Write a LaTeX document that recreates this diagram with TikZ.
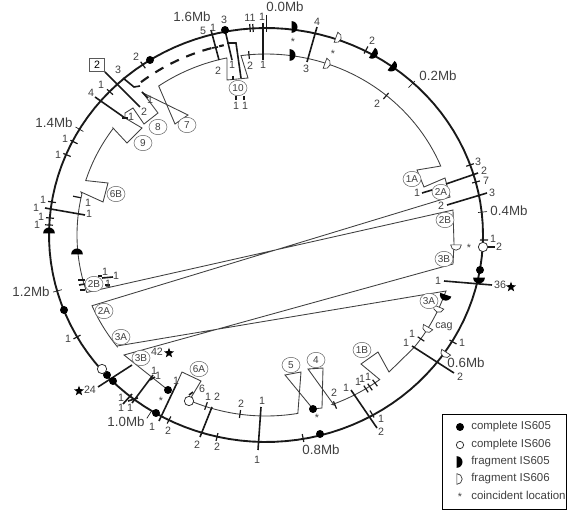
\documentclass[tikz,border=0pt]{standalone}
\usepackage{fontspec}
\usetikzlibrary{shapes.geometric}
\setmainfont{Liberation Sans}
\newcommand{\ix}{266+189*cos(\x)}
\newcommand{\iy}{235+181*sin(\x)}
\begin{document}
\begin{tikzpicture}[
    x=0.75pt, y=-0.75pt,
    ring/.style={line width=1.4pt, black!90},
    track/.style={line width=0.65pt, black!75},
    trk/.style={domain=#1, samples=40},
    bar/.style={line width=1.2pt, black!90},
    tick/.style={line width=0.9pt, black!90},
    num/.style={inner sep=0pt, font=\fontsize{8}{8}\selectfont, text=black!75},
    mb/.style={inner sep=0pt, font=\fontsize{10}{10}\selectfont, text=black!75},
    tag/.style={ellipse, draw=black!60, line width=0.4pt, fill=white, inner sep=0pt, minimum width=13.5pt, minimum height=11.5pt, font=\fontsize{7.5}{7.5}\selectfont, text=black!75},
    comp/.style={circle, fill=black, inner sep=0pt, minimum size=6pt},
    open/.style={circle, draw=black!80, line width=0.6pt, fill=white, inner sep=0pt, minimum size=7pt},
    halfa/.style={semicircle, fill=black, inner sep=0pt, minimum size=4.4pt},
    halfb/.style={semicircle, draw=black!80, line width=0.5pt, fill=white, inner sep=0pt, minimum size=4pt},
    astar/.style={star, star points=5, star point ratio=2.4, fill=black, inner sep=0pt, minimum size=8pt},
    keytext/.style={inner sep=0pt, anchor=west, font=\fontsize{8.6}{8.6}\selectfont, text=black!75}
]
\useasboundingbox (0,0) rectangle (568,513);

\draw[ring] plot[domain=0:360,samples=120] ({266+217*cos(\x)},{235+207*sin(\x)}) -- cycle;
\draw[track] (177,383) -- (182,372) -- (201,381) -- (189,401) -- plot[trk=114:80.3] ({\ix},{\iy})
    -- (301,372) -- (285,375) -- (313,409) -- (322,408) -- (323,368) -- (308,369) -- (334,405)
    -- plot[trk=69.5:53] ({\ix},{\iy}) -- (361,364) -- (378,352) -- (389,372) -- plot[trk=38.5:19.5] ({\ix},{\iy})
    -- (446,291) -- (117,346) -- plot[trk=142:157] ({\ix},{\iy})
    -- (450,197) -- (445,178) -- (424,187) -- (417,170) -- plot[trk=-22.4:-97.6] ({\ix},{\iy})
    -- (248,78) -- (227,80) -- (227,59) -- plot[trk=-102:-124.6] ({\ix},{\iy})
    -- (175,124) -- (188,115) -- (143,93) -- (158,113) -- (144,124) -- (133,108) -- (125,113) -- (125,118)
    -- (142,128) -- (127,143) -- (113,128) -- plot[trk=-144:-162.5] ({\ix},{\iy})
    -- (108,183) -- (103,202) -- (81,192) -- plot[trk=193:161.5] ({\ix},{\iy})
    -- (453,210) -- (454,244) -- (453,264) -- (124,355) -- (168,390);
\draw[bar, line width=1.6pt, dash pattern=on 7pt off 6pt] plot[domain=-128:-102,samples=30] ({266+203*cos(\x)},{235+194*sin(\x)});

\foreach \xa/\ya/\xb/\yb in {263/23/263/60, 317/27/307/62, 211/30/219/60, 225/30/232/60, 95/97/125/118,
    105/72/140/107, 45/208/85/215, 446/184/478/173, 447/205/487/193, 422/193/432/190, 444/281/492/285,
    412/346/454/373, 351/390/377/428, 261/407/258/450, 212/407/200/437, 177/383/159/421, 153/375/132/403,
    132/365/98/387, 488/247/495/247, 212/48/218/47, 123/404/132/394, 128/401/138/398, 150/380/155/377,
    189/395/193/392, 98/276/102/276, 102/278/113/277, 105/285/110/285, 78/280/85/280, 79/285/85/284,
    80/290/85/290, 236/96/236/100, 244/96/244/100, 233/76/233/80, 142/92/148/98, 122/118/128/118}
    \draw[bar] (\xa,\ya) -- (\xb,\yb);
\draw[bar] (227,43) -- (236,43) -- (241,78);
\draw[bar] (123,78) -- (134,87) -- (140,86);

\foreach \px/\py in {143/65, 110/92, 74/142, 67/155, 52/202, 50/218, 49/225, 303/438, 366/50, 470/165,
    476/182, 484/240, 453/342, 372/414, 217/437, 169/420, 77/337, 250/28, 253/28, 249/55, 386/96, 421/339,
    335/405, 240/414, 206/406, 77/197, 366/389, 370/387, 375/383} {
    \pgfmathsetmacro\ang{atan2(\py-235,\px-266)}
    \draw[tick] (\px,\py) ++(\ang:-4) -- ++(\ang:8);
}
\foreach \px/\py in {79/129, 57/291, 412/84, 483/212, 149/415} {
    \pgfmathsetmacro\ang{atan2(\py-235,\px-266)}
    \draw[tick, line width=0.5pt] (\px,\py) ++(\ang:-5) -- ++(\ang:9);
}
\draw[tick, line width=0.5pt] (266,15) -- (266,32);

\foreach \px/\py [count=\i] in {150/60, 225/30, 64/310, 107/375, 113/381, 156/413, 168/390, 313/409, 320/434, 480/270}
    \node[comp] (comp\i) at (\px,\py) {};
\foreach \px/\py [count=\i] in {102/369, 483/247, 189/401}
    \node[open] (open\i) at (\px,\py) {};
\foreach \px/\py/\rot [count=\i] in {294/27/-90, 292/55/-90, 374/54/-121, 393/67/-127, 49/231/0, 77/252/0, 479/280/-180, 445/297/-199}
    \node[halfa, rotate=\rot] (fraga\i) at (\px,\py) {};
\foreach \px/\py/\rot [count=\i] in {338/38/-110, 327/64/-110, 456/247/-180, 438/309/-203, 427/329/-210, 445/354/-213}
    \node[halfb, rotate=\rot] (fragb\i) at (\px,\py) {};

\foreach \px/\py/\txt in {238/88/10, 187/125/7, 158/127/8, 143/143/9, 116/194/6B, 94/284/2B, 104/311/2A, 121/337/3A,
    141/358/3B, 199/369/6A, 291/365/5, 316/360/4, 362/350/1B, 429/301/3A, 444/259/3B, 445/220/2B, 441/192/2A, 412/179/1A}
    \node[tag] (tag\txt\px) at (\px,\py) {\txt};
\node[draw=black!65, line width=1.2pt, minimum width=11pt, minimum height=10pt, inner sep=0pt, fill=white, font=\fontsize{8}{8}\selectfont] (boxtwo) at (97,65) {2};

\foreach \px/\py/\txt [count=\i] in {136/57/2, 118/70/3, 101/85/1, 91/93/4, 150/100/1, 144/112/2, 131/117/1, 65/139/1,
    58/155/1, 43/200/1, 36/208/1, 89/214/1, 41/217/1, 37/225/1, 88/203/1, 203/31/5, 213/28/1, 224/20/3, 232/65/1,
    250/18/11, 262/17/1, 263/65/1, 250/66/2, 218/71/2, 236/106/1, 245/106/1, 317/22/4, 306/69/3, 372/41/2, 377/104/2,
    478/162/3, 484/171/2, 486/181/7, 417/193/1, 492/193/3, 441/206/2, 493/239/1, 499/247/2, 438/281/1, 462/343/1,
    406/343/1, 412/334/1, 460/377/2, 346/388/1, 381/419/1, 381/432/2, 358/382/1, 362/379/1, 368/377/1, 334/393/2,
    262/401/1, 257/460/1, 241/404/2, 217/447/2, 197/445/2, 208/397/1, 217/397/2, 202/389/6, 176/381/1, 152/427/1,
    168/431/2, 154/371/1, 158/376/1, 121/398/1, 121/408/1, 130/408/1, 68/339/1, 105/272/1, 116/276/1, 108/284/1,
    90/390/24, 500/285/36, 157/352/42, 444/327/cag}
    \node[num] (num\i) at (\px,\py) {\txt};
\foreach \px/\py/\txt [count=\i] in {285/7/0.0Mb, 192/17/1.6Mb, 54/123/1.4Mb, 31/292/1.2Mb, 126/422/1.0Mb, 321/450/0.8Mb,
    466/363/0.6Mb, 509/211/0.4Mb, 438/76/0.2Mb}
    \node[mb] (mb\i) at (\px,\py) {\txt};
\foreach \px/\py [count=\i] in {293/42, 333/54, 469/248, 317/418, 161/401}
    \node[num] (mark\i) at (\px,\py) {*};
\foreach \px/\py [count=\i] in {79/391, 511/287, 169/353}
    \node[astar] (star\i) at (\px,\py) {};

\node[draw=black, line width=0.9pt, minimum width=93pt, minimum height=71pt, inner sep=0pt, anchor=north west] (legend) at (442,414) {};
\node[comp] (keya) at (460,427) {};
\node[open, minimum size=5.5pt] (keyb) at (460,445) {};
\node[halfa, rotate=-90] (keyc) at (459,462) {};
\node[halfb, rotate=-90] (keyd) at (459,479) {};
\node[num] (keye) at (460,497) {*};
\node[keytext] (texta) at (471,427) {complete IS605};
\node[keytext] (textb) at (471,445) {complete IS606};
\node[keytext] (textc) at (471,462) {fragment IS605};
\node[keytext] (textd) at (471,479) {fragment IS606};
\node[keytext] (texte) at (471,495) {coincident location};
\end{tikzpicture}
\end{document}
